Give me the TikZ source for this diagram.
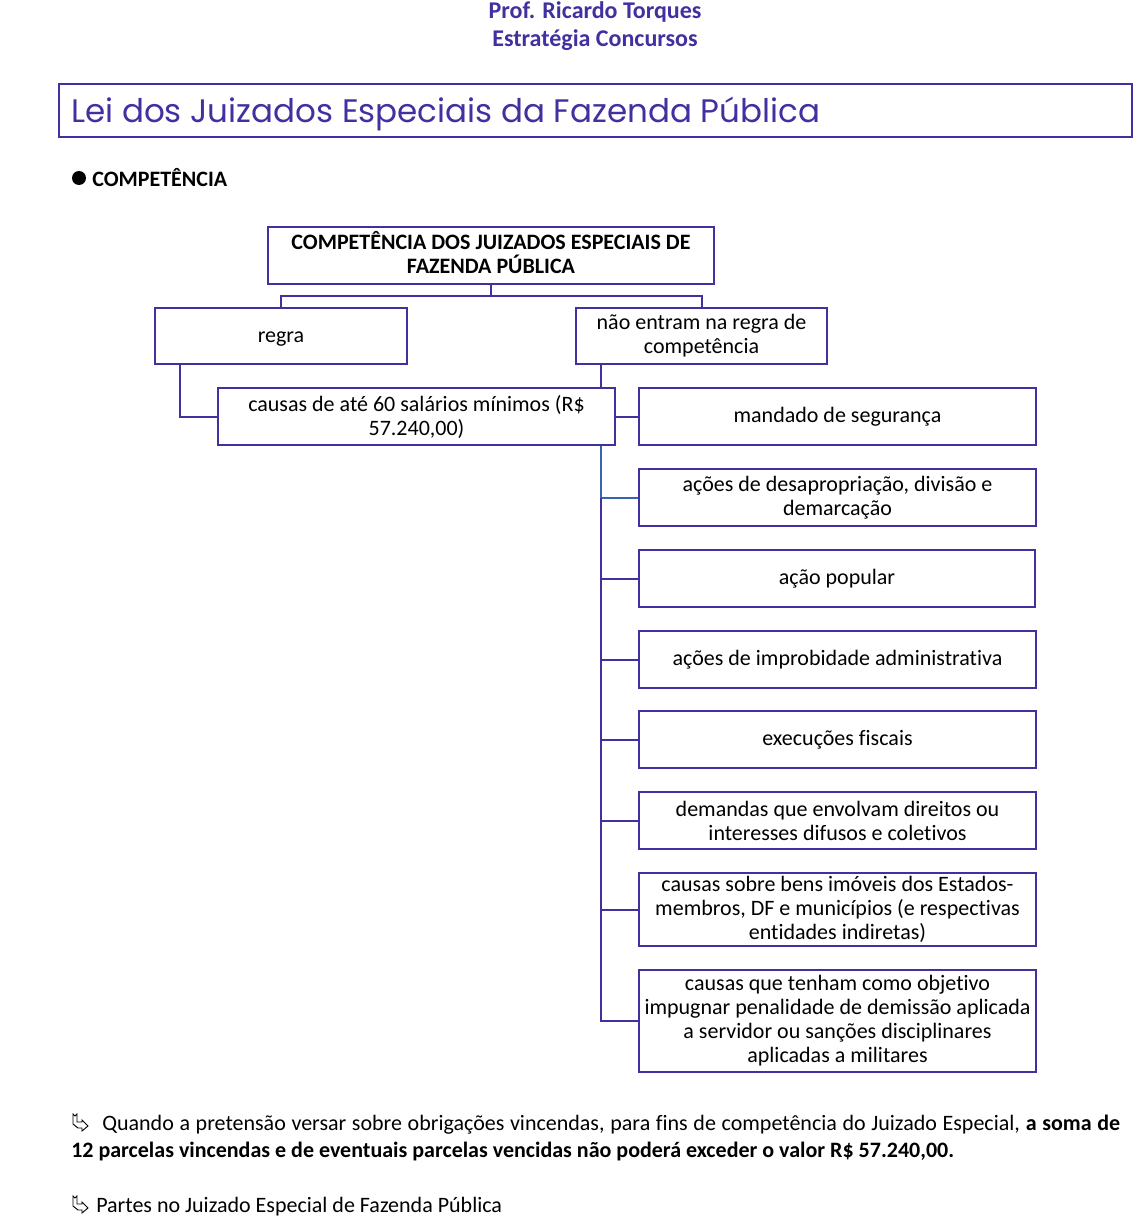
\documentclass[tikz,border=0pt]{standalone}
\usepackage{fontspec}
\setmainfont[Ligatures=NoCommon]{Carlito}
\newfontfamily\titlefont{Poppins}
\usepackage{xcolor}
\usetikzlibrary{calc,positioning}
\definecolor{darkpurple}{HTML}{4030A0}
\definecolor{trunkblue}{HTML}{3565B0}
\tikzset{
  box/.style={draw=darkpurple,line width=1.5pt,align=flush center,inner sep=0pt,font=\fontsize{16.5}{18}\selectfont},
  oneline/.style={text height=12pt,text depth=3pt},
  link/.style={draw=darkpurple,line width=1.5pt},
  bodytext/.style={anchor=west,inner sep=0pt,font=\fontsize{16.5}{18}\selectfont},
  heading/.style={inner sep=0pt,text=darkpurple,font=\fontsize{18}{18}\selectfont\bfseries},
  hook/.pic={\draw[line width=0.7pt] (-7,-9) -- (-5,-7) -- (-3,-9) -- (-3,-1) -- (2,-1) -- (2,-3) -- (8,3) -- (2,8) -- (2,5) -- (-2,5) -- (-7,1) -- cycle;}
}
\begin{document}
\begin{tikzpicture}[x=0.75pt,y=-0.75pt]
  \useasboundingbox (0,0) rectangle (1133,1216);
  % Heading
  \node[heading] (prof) at (595,12) {Prof. Ricardo Torques};
  \node[heading] (estrategia) at (595,40) {Estratégia Concursos};
  % Title
  \node[box,minimum width=804.75pt,minimum height=39.75pt] (titlebox) at (595.5,110.5) {};
  \node[anchor=west,inner sep=0pt,text=darkpurple,font=\titlefont\fontsize{24.4}{28}\selectfont] (titletext) at (71,114) {Lei dos Juizados Especiais da Fazenda Pública};
  % Section
  \node[circle,fill=black,inner sep=0pt,minimum size=10.5pt] (dot) at (79,178) {};
  \node[bodytext,font=\fontsize{16.5}{18}\selectfont\bfseries] (section) at (92,178) {COMPETÊNCIA};
  % Top of the chart
  \node[box,minimum width=334.5pt,minimum height=42.75pt,text width=330pt,font=\fontsize{16.5}{18}\selectfont\bfseries] (top) at (491,255.5) {COMPETÊNCIA DOS JUIZADOS ESPECIAIS DE\\FAZENDA PÚBLICA\rule[-5.3pt]{0pt}{5.3pt}};
  \node[box,oneline,minimum width=189pt,minimum height=42pt] (regra) at (281,336) {regra};
  \node[box,minimum width=188.25pt,minimum height=42pt,text width=185pt] (excluded) at (701.5,336) {não entram na regra de\\competência};
  \node[box,minimum width=297.75pt,minimum height=42.75pt,text width=294pt] (causas) at (416.5,416.5) {causas de até 60 salários mínimos (R\$\\57.240,00)};
  % Right column
  \node[box,oneline,minimum width=297.75pt,minimum height=42.75pt,text width=294pt] (mandado) at (837.5,416.5) {mandado de segurança};
  \node[box,minimum width=297.75pt,minimum height=42.75pt,text width=294pt] (desaprop) at (837.5,497.5) {ações de desapropriação, divisão e\\demarcação};
  \node[box,oneline,minimum width=297pt,minimum height=42.75pt,text width=294pt] (popular) at (837,578.5) {ação popular};
  \node[box,oneline,minimum width=297.75pt,minimum height=42.75pt,text width=294pt] (improb) at (837.5,659.5) {ações de improbidade administrativa};
  \node[box,oneline,minimum width=297.75pt,minimum height=42.75pt,text width=294pt] (fiscais) at (837.5,739.5) {execuções fiscais};
  \node[box,minimum width=297.75pt,minimum height=42.75pt,text width=294pt] (difusos) at (837.5,820.5) {demandas que envolvam direitos ou\\interesses difusos e coletivos};
  \node[box,minimum width=297.75pt,minimum height=54.75pt,text width=294pt] (imoveis) at (837.5,909.5) {causas sobre bens imóveis dos Estados-\\membros, DF e municípios (e respectivas\\entidades indiretas)};
  \node[box,minimum width=297.75pt,minimum height=76.5pt,text width=294pt] (demissao) at (837.5,1021) {causas que tenham como objetivo\\impugnar penalidade de demissão aplicada\\a servidor ou sanções disciplinares\\aplicadas a militares};
  % Connectors
  \coordinate (fork) at (491,296);
  \coordinate (regradrop) at (180,364);
  \coordinate (trunk) at (601,364);
  \draw[link] (top.south) -- (fork);
  \draw[link] (regra.north) |- (fork);
  \draw[link] (excluded.north) |- (fork);
  \draw[link] (regradrop) |- (causas.west);
  \draw[link] (trunk) -- (trunk |- causas.north);
  \draw[link] (causas.east) -- (mandado.west);
  \draw[link,draw=trunkblue] (trunk |- causas.south) |- (desaprop.west);
  \draw[link] (trunk |- desaprop.west) |- (popular.west);
  \draw[link] (trunk |- popular.west) |- (improb.west);
  \draw[link] (trunk |- improb.west) |- (fiscais.west);
  \draw[link] (trunk |- fiscais.west) |- (difusos.west);
  \draw[link] (trunk |- difusos.west) |- (imoveis.west);
  \draw[link] (trunk |- imoveis.west) |- (demissao.west);
  % Notes
  \pic at (80,1123) {hook};
  \node[bodytext] (noteone) at (102,1125) {\hbox to 763.5pt{Quando a pretensão versar sobre obrigações vincendas, para fins de competência do Juizado Especial, \textbf{a soma de}}};
  \node[bodytext,font=\fontsize{16.5}{18}\selectfont\bfseries] (notetwo) at (71,1151) {12 parcelas vincendas e de eventuais parcelas vencidas não poderá exceder o valor R\$ 57.240,00.};
  \pic at (80,1205) {hook};
  \node[bodytext] (notethree) at (96,1207) {Partes no Juizado Especial de Fazenda Pública};
\end{tikzpicture}
\end{document}
